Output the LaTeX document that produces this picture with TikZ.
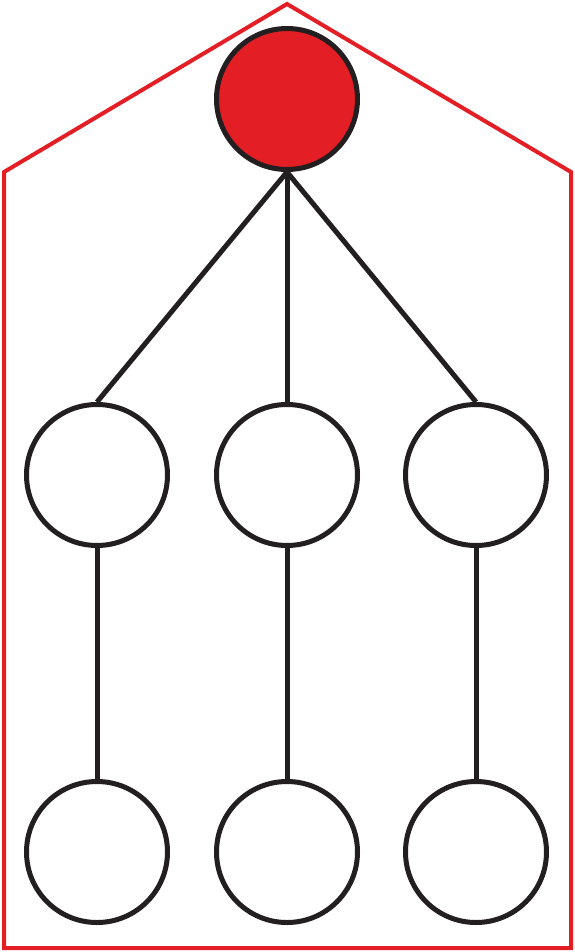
\documentclass[tikz,border=0pt]{standalone}
\definecolor{hred}{HTML}{E31E24}
\definecolor{hdark}{HTML}{231F20}
\begin{document}
\begin{tikzpicture}[x=1pt,y=-1pt,
  nodecirc/.style={circle,draw=hdark,line width=5pt,minimum size=141pt,inner sep=0pt,fill=white},
  link/.style={draw=hdark,line width=5pt}]
\useasboundingbox (0,0) rectangle (574,952);
\draw[hred,line width=4pt,line join=miter] (287,4) -- (571,172) -- (571,948) -- (4,948) -- (4,172) -- cycle;
\node[nodecirc,fill=hred] (top) at (287,99) {};
\node[nodecirc] (m1) at (97,475) {};
\node[nodecirc] (m2) at (287,475) {};
\node[nodecirc] (m3) at (476,475) {};
\node[nodecirc] (b1) at (97,852) {};
\node[nodecirc] (b2) at (287,852) {};
\node[nodecirc] (b3) at (476,852) {};
\draw[link] (top.south) -- (m1.north);
\draw[link] (top.south) -- (m2.north);
\draw[link] (top.south) -- (m3.north);
\draw[link] (m1.south) -- (b1.north);
\draw[link] (m2.south) -- (b2.north);
\draw[link] (m3.south) -- (b3.north);
\end{tikzpicture}
\end{document}
